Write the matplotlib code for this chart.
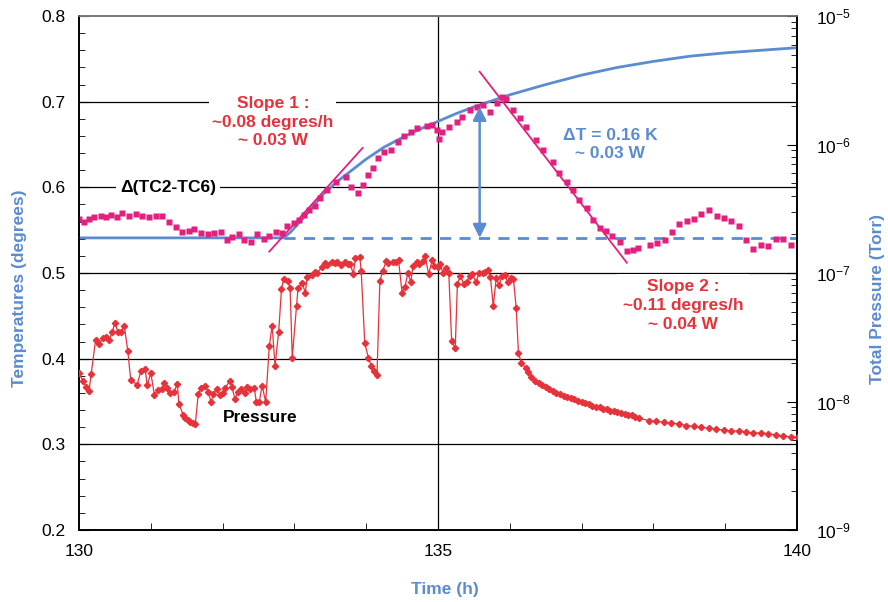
import matplotlib.pyplot as plt
import numpy as np
from matplotlib.ticker import MultipleLocator, LogLocator, NullFormatter

plt.rcParams['font.family'] = ['Liberation Sans', 'DejaVu Sans']

# delta T (TC2-TC6), degrees
dt_time = [130.00, 130.07, 130.14, 130.21, 130.31, 130.38, 130.45, 130.53, 130.60, 130.70,
           130.79, 130.88, 130.98, 131.07, 131.16, 131.26, 131.35, 131.44, 131.53, 131.60,
           131.70, 131.79, 131.88, 131.98, 132.06, 132.13, 132.23, 132.30, 132.40, 132.48,
           132.58, 132.65, 132.75, 132.83, 132.90, 133.00, 133.07, 133.14, 133.21, 133.28,
           133.35, 133.46, 133.58, 133.72, 133.79, 133.88, 133.95, 134.02, 134.09, 134.16,
           134.25, 134.35, 134.44, 134.53, 134.63, 134.71, 134.84, 134.92, 134.98, 135.01,
           135.06, 135.16, 135.26, 135.34, 135.44, 135.54, 135.62, 135.72, 135.82, 135.89,
           135.95, 136.04, 136.14, 136.23, 136.37, 136.46, 136.60, 136.69, 136.79, 136.88,
           136.97, 137.07, 137.16, 137.25, 137.34, 137.42, 137.53, 137.63, 137.71, 137.78,
           137.95, 138.05, 138.16, 138.26, 138.36, 138.47, 138.57, 138.67, 138.77, 138.88,
           138.98, 139.08, 139.19, 139.29, 139.39, 139.50, 139.60, 139.71, 139.81, 139.92]
dt_value = [0.563, 0.560, 0.563, 0.565, 0.567, 0.565, 0.568, 0.565, 0.570, 0.566,
            0.569, 0.567, 0.565, 0.567, 0.567, 0.559, 0.554, 0.548, 0.549, 0.551,
            0.547, 0.545, 0.547, 0.548, 0.539, 0.542, 0.545, 0.539, 0.536, 0.546,
            0.540, 0.543, 0.548, 0.547, 0.555, 0.558, 0.562, 0.568, 0.573, 0.578,
            0.588, 0.597, 0.606, 0.612, 0.600, 0.593, 0.603, 0.614, 0.623, 0.634,
            0.641, 0.644, 0.653, 0.660, 0.665, 0.669, 0.672, 0.673, 0.667, 0.656,
            0.665, 0.671, 0.676, 0.682, 0.690, 0.694, 0.696, 0.688, 0.698, 0.705,
            0.703, 0.690, 0.681, 0.670, 0.655, 0.644, 0.630, 0.617, 0.606, 0.597,
            0.585, 0.576, 0.562, 0.553, 0.549, 0.543, 0.536, 0.526, 0.527, 0.529,
            0.533, 0.535, 0.539, 0.548, 0.557, 0.561, 0.563, 0.569, 0.573, 0.566,
            0.564, 0.561, 0.555, 0.538, 0.528, 0.533, 0.532, 0.540, 0.540, 0.533]

# fitted curve
fit_time = [130.0, 132.85, 132.95, 133.1, 133.25, 133.4, 133.6, 133.8, 134.0, 134.25,
            134.5, 134.75, 135.0, 135.25, 135.5, 135.75, 136.0, 136.5, 137.0, 137.5,
            138.0, 138.5, 139.0, 139.5, 140.0]
fit_value = [0.541, 0.541, 0.548, 0.562, 0.577, 0.592, 0.607, 0.620, 0.633, 0.647,
             0.658, 0.668, 0.677, 0.686, 0.694, 0.701, 0.708, 0.720, 0.731, 0.740,
             0.747, 0.753, 0.757, 0.760, 0.763]
baseline = 0.541
baseline_start = 132.85

slope1_time = [132.65, 133.95]
slope1_value = [0.525, 0.646]
slope2_time = [135.58, 137.63]
slope2_value = [0.735, 0.512]

arrow_time = 135.58
arrow_top = 0.694

# total pressure, Torr
p_time = [130.00, 130.05, 130.10, 130.14, 130.17, 130.23, 130.28, 130.33, 130.38, 130.42,
          130.46, 130.50, 130.54, 130.58, 130.63, 130.68, 130.72, 130.81, 130.86, 130.92,
          130.95, 131.00, 131.05, 131.10, 131.16, 131.19, 131.23, 131.27, 131.32, 131.37,
          131.39, 131.45, 131.48, 131.52, 131.55, 131.59, 131.62, 131.66, 131.70, 131.76,
          131.80, 131.84, 131.87, 131.92, 131.96, 132.01, 132.04, 132.10, 132.13, 132.17,
          132.21, 132.25, 132.31, 132.34, 132.38, 132.44, 132.47, 132.51, 132.55, 132.60,
          132.65, 132.69, 132.73, 132.78, 132.82, 132.85, 132.91, 132.94, 132.97, 133.03,
          133.05, 133.11, 133.15, 133.18, 133.24, 133.28, 133.32, 133.38, 133.42, 133.46,
          133.52, 133.56, 133.60, 133.65, 133.70, 133.74, 133.78, 133.82, 133.85, 133.91,
          133.93, 133.98, 134.03, 134.07, 134.11, 134.15, 134.19, 134.23, 134.28, 134.31,
          134.37, 134.41, 134.45, 134.50, 134.54, 134.58, 134.62, 134.65, 134.71, 134.73,
          134.79, 134.82, 134.87, 134.92, 134.95, 135.00, 135.03, 135.07, 135.11, 135.15,
          135.19, 135.24, 135.27, 135.31, 135.36, 135.40, 135.44, 135.48, 135.53, 135.57,
          135.62, 135.66, 135.70, 135.73, 135.77, 135.81, 135.85, 135.89, 135.93, 135.97,
          136.01, 136.05, 136.09, 136.12, 136.16, 136.22,
          136.25, 136.30, 136.35, 136.40, 136.45, 136.50, 136.55, 136.60, 136.65, 136.70,
          136.75, 136.80, 136.85, 136.90, 136.95, 137.00, 137.05, 137.10, 137.15, 137.20,
          137.25, 137.30, 137.35, 137.40, 137.45, 137.50, 137.55, 137.60, 137.65, 137.70,
          137.75, 137.80, 137.94, 138.04, 138.15, 138.25, 138.35, 138.46, 138.56, 138.67,
          138.77, 138.87, 138.98, 139.08, 139.19, 139.29, 139.39, 139.50, 139.60, 139.71,
          139.81, 139.92, 140.02]
p_value = [1.67e-8, 1.45e-8, 1.30e-8, 1.21e-8, 1.65e-8, 3.0e-8, 2.8e-8, 3.1e-8, 3.2e-8, 3.0e-8,
           3.45e-8, 4.1e-8, 3.5e-8, 3.45e-8, 3.9e-8, 2.45e-8, 1.47e-8, 1.35e-8, 1.72e-8, 1.8e-8,
           1.34e-8, 1.67e-8, 1.12e-8, 1.23e-8, 1.25e-8, 1.40e-8, 1.28e-8, 1.16e-8, 1.18e-8, 1.37e-8,
           9.6e-9, 7.9e-9, 7.4e-9, 7.2e-9, 6.9e-9, 6.8e-9, 6.7e-9, 1.14e-8, 1.28e-8, 1.33e-8,
           1.18e-8, 9.9e-9, 1.14e-8, 1.25e-8, 1.12e-8, 1.16e-8, 1.28e-8, 1.45e-8, 1.30e-8, 1.05e-8,
           1.18e-8, 1.25e-8, 1.16e-8, 1.30e-8, 1.25e-8, 1.28e-8, 9.9e-9, 9.9e-9, 1.33e-8, 9.9e-9,
           2.7e-8, 3.9e-8, 1.9e-8, 3.45e-8, 7.5e-8, 9.0e-8, 8.6e-8, 7.6e-8, 2.2e-8, 5.5e-8,
           7.6e-8, 8.4e-8, 7.0e-8, 9.3e-8, 9.6e-8, 1.02e-7, 1.0e-7, 1.11e-7, 1.20e-7, 1.15e-7,
           1.22e-7, 1.20e-7, 1.22e-7, 1.15e-7, 1.22e-7, 1.17e-7, 1.17e-7, 9.8e-8, 1.31e-7, 1.33e-7,
           1.04e-7, 2.85e-8, 2.2e-8, 1.9e-8, 1.72e-8, 1.6e-8, 8.6e-8, 1.04e-7, 1.24e-7, 1.20e-7,
           1.22e-7, 1.22e-7, 1.26e-7, 7.0e-8, 7.8e-8, 1.0e-7, 8.5e-8, 1.13e-7, 1.22e-7, 1.17e-7,
           1.24e-7, 1.36e-7, 9.8e-8, 1.26e-7, 1.13e-7, 1.11e-7, 1.17e-7, 1.0e-7, 1.09e-7, 1.0e-7,
           2.95e-8, 2.6e-8, 8.2e-8, 9.5e-8, 8.2e-8, 8.5e-8, 9.5e-8, 9.8e-8, 8.5e-8, 1.0e-7,
           1.0e-7, 1.02e-7, 1.05e-7, 9.3e-8, 5.5e-8, 9.1e-8, 8.1e-8, 9.5e-8, 9.6e-8, 8.5e-8,
           9.1e-8, 9.0e-8, 5.3e-8, 2.4e-8, 2.0e-8, 1.83e-8,
           1.70e-8, 1.55e-8, 1.45e-8, 1.39e-8, 1.34e-8, 1.29e-8, 1.25e-8, 1.21e-8, 1.17e-8, 1.14e-8,
           1.11e-8, 1.08e-8, 1.06e-8, 1.04e-8, 1.01e-8, 9.9e-9, 9.7e-9, 9.5e-9, 9.3e-9, 9.1e-9,
           9.0e-9, 8.8e-9, 8.7e-9, 8.5e-9, 8.4e-9, 8.3e-9, 8.1e-9, 8.0e-9, 7.9e-9, 7.8e-9,
           7.6e-9, 7.4e-9, 7.1e-9, 7.0e-9, 6.9e-9, 6.8e-9, 6.7e-9, 6.5e-9, 6.4e-9, 6.3e-9,
           6.2e-9, 6.1e-9, 6.0e-9, 5.9e-9, 5.9e-9, 5.8e-9, 5.7e-9, 5.7e-9, 5.6e-9, 5.5e-9,
           5.4e-9, 5.3e-9, 5.3e-9]

blue = '#5b8bd0'
red = '#e5323b'
magenta = '#e3207d'

fig = plt.figure(figsize=(8.88, 6.02), dpi=100)
ax = fig.add_axes([0.089, 0.1196, 0.8085, 0.8538])
ax2 = ax.twinx()

ax.set_xlim(130, 140)
ax.set_ylim(0.2, 0.8)
ax2.set_yscale('log')
ax2.set_ylim(1e-9, 1e-5)

# grid
for yv in [0.3, 0.4, 0.5, 0.6, 0.7]:
    ax.axhline(yv, color='black', lw=0.9, zorder=0.5)
ax.axvline(135, color='black', lw=0.9, zorder=0.5)

ax.set_xticks([130, 135, 140])
ax.xaxis.set_minor_locator(MultipleLocator(1))
ax.yaxis.set_major_locator(MultipleLocator(0.1))
ax.yaxis.set_minor_locator(MultipleLocator(0.02))
ax.tick_params(axis='both', which='both', direction='in', labelsize=12.5)
ax.tick_params(axis='y', which='major', length=7, pad=10)
ax.tick_params(axis='y', which='minor', length=4)
ax.tick_params(axis='x', which='major', length=0, pad=10)
ax.tick_params(axis='x', which='minor', length=5)
ax.tick_params(right=False)

ax2.yaxis.set_major_locator(LogLocator(base=10, numticks=10))
ax2.yaxis.set_minor_locator(LogLocator(base=10, subs=np.arange(2, 10), numticks=20))
ax2.yaxis.set_minor_formatter(NullFormatter())
ax2.tick_params(axis='y', which='both', direction='in', labelsize=12.5)
ax2.tick_params(axis='y', which='major', length=7, pad=14)
ax2.tick_params(axis='y', which='minor', length=4)

for a in (ax, ax2):
    for s in a.spines.values():
        s.set_linewidth(1.2)
    a.spines['top'].set_color('#777777')

# delta T and fit
ax.plot(fit_time, fit_value, color=blue, lw=2, zorder=3)
ax.plot([baseline_start, 140], [baseline, baseline], color=blue, lw=2,
        dashes=(4, 3), zorder=3)
ax.plot(dt_time, dt_value, 's', color=magenta, ms=4.8, mec='none', zorder=4)
ax.plot(slope1_time, slope1_value, color=magenta, lw=1.3, zorder=4)
ax.plot(slope2_time, slope2_value, color=magenta, lw=1.3, zorder=4)
ax.annotate('', xy=(arrow_time, baseline), xytext=(arrow_time, arrow_top),
            arrowprops=dict(arrowstyle='<|-|>', color=blue, lw=1.8,
                            mutation_scale=20, shrinkA=0, shrinkB=0), zorder=5)

# pressure
ax2.plot(p_time, p_value, '-D', color=red, lw=0.9, ms=3.2, mec=red, zorder=4)

box = dict(fc='white', ec='none', pad=2)
ax.text(132.70, 0.676, 'Slope 1 :\n~0.08 degres/h\n~ 0.03 W', color=red,
        fontsize=12.5, fontweight='bold', ha='center', va='center',
        linespacing=1.3, bbox=box, zorder=2)
ax.text(137.40, 0.650, '\u0394T = 0.16 K\n~ 0.03 W', color=blue,
        fontsize=12.5, fontweight='bold', ha='center', va='center',
        linespacing=1.3, zorder=2)
ax.text(138.41, 0.462, 'Slope 2 :\n~0.11 degres/h\n~ 0.04 W', color=red,
        fontsize=12.5, fontweight='bold', ha='center', va='center',
        linespacing=1.3, bbox=dict(fc='white', ec='none', pad=4), zorder=2)
ax.text(131.24, 0.600, '\u0394(TC2-TC6)', color='black', fontsize=12.5,
        fontweight='bold', ha='center', va='center',
        bbox=dict(fc='white', ec='none', pad=3), zorder=2)
ax.text(132.52, 0.331, 'Pressure', color='black', fontsize=12.5,
        fontweight='bold', ha='center', va='center', zorder=2)

ax.set_xlabel('Time (h)', color=blue, fontsize=12.5, fontweight='bold')
ax.xaxis.set_label_coords(0.51, -0.101)
ax.set_ylabel('Temperatures (degrees)', color=blue, fontsize=12.5, fontweight='bold')
ax.yaxis.set_label_coords(-0.072, 0.47)
ax2.set_ylabel('Total Pressure (Torr)', color=blue, fontsize=12.5, fontweight='bold')
ax2.yaxis.set_label_coords(1.102, 0.45)

fig.savefig('out.png', dpi=100)
